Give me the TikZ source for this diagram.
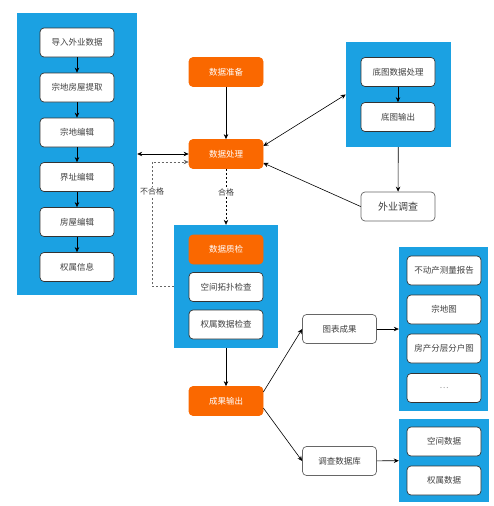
\documentclass[tikz,border=0pt]{standalone}
\usepackage{fontspec}
\setmainfont{Noto Sans CJK SC}
\usetikzlibrary{arrows.meta,calc}
\definecolor{panelblue}{HTML}{1BA1E2}
\definecolor{taskorange}{HTML}{FA6800}

\begin{document}
\begin{tikzpicture}[x=1pt, y=-1pt,
    box/.style={draw=black!80, fill=white, rounded corners=4pt, line width=0.7pt,
        minimum width=74pt, minimum height=29pt, inner sep=0pt,
        font=\fontsize{8.5}{10}\selectfont, text=black!75},
    hot/.style={box, draw=taskorange, fill=taskorange, text=white},
    panel/.style={fill=panelblue, inner sep=0pt},
    link/.style={-{Stealth[length=5pt,width=4.5pt]}, line width=0.6pt},
    twoway/.style={{Stealth[length=5pt,width=4.5pt]}-{Stealth[length=5pt,width=4.5pt]}, line width=0.6pt},
    tag/.style={fill=white, inner sep=1pt, font=\fontsize{8}{9}\selectfont, text=black!75}]

    \useasboundingbox (0,0) rectangle (494,506);

    % left column
    \node[panel, minimum width=120pt, minimum height=282pt] (leftpanel) at (77,154) {};
    \node[box] (import) at (77,42.5) {导入外业数据};
    \node[box] (extract) at (77,87.5) {宗地房屋提取};
    \node[box] (parcel) at (77,132.5) {宗地编辑};
    \node[box] (boundary) at (77,177) {界址编辑};
    \node[box] (house) at (77,222) {房屋编辑};
    \node[box] (owner) at (77,267) {权属信息};
    \draw[link] (import) -- (extract);
    \draw[link] (extract) -- (parcel);
    \draw[link] (parcel) -- (boundary);
    \draw[link] (boundary) -- (house);
    \draw[link] (house) -- (owner);

    % middle column
    \node[hot] (prep) at (226,72) {数据准备};
    \node[hot] (proc) at (226,154) {数据处理};

    \node[panel, minimum width=104pt, minimum height=123pt] (qcpanel) at (226,286.5) {};
    \node[hot] (qc) at (226,249.5) {数据质检};
    \node[box] (topo) at (226,287) {空间拓扑检查};
    \node[box] (rights) at (226,324.5) {权属数据检查};

    \node[hot] (result) at (226,401) {成果输出};

    \draw[link] (prep) -- (proc);
    \draw[twoway] (leftpanel) -- (proc);
    \draw[link, dashed, dash pattern=on 2pt off 2pt] (proc) -- node[tag, pos=0.42] (pass) {合格} (qcpanel);
    \coordinate (back) at (152,162);
    \draw[link, draw=black!60, dash pattern=on 2pt off 2pt] (qcpanel.west) -| node[tag, pos=0.88] (fail) {不合格} (back) -- (proc.west |- back);
    \draw[link] (qcpanel) -- (result);

    % base map
    \node[panel, minimum width=105pt, minimum height=105pt] (mappanel) at (398.5,94.5) {};
    \node[box] (mapproc) at (398,72) {底图数据处理};
    \node[box] (mapout) at (398,117) {底图输出};
    \node[box, draw=black!60, font=\fontsize{10}{12}\selectfont] (survey) at (398,206.5) {外业调查};
    \draw[link] (mapproc) -- (mapout);
    \draw[link] (mappanel) -- (survey);
    \draw[twoway] ($(proc.east)+(0,-8)$) -- (mappanel.west);
    \draw[link] (survey.west) -- ($(proc.east)+(0,9)$);

    % outputs
    \node[box, draw=black!60] (charts) at (339.5,329) {图表成果};
    \node[box, draw=black!60] (db) at (339.5,461) {调查数据库};
    \draw[link] ($(result.east)+(0,-9)$) -- (charts.west);
    \draw[link] ($(result.east)+(0,7)$) -- (db.west);

    \node[panel, minimum width=89pt, minimum height=164pt] (chartpanel) at (443.5,329) {};
    \node[box] (report) at (444,270.5) {不动产测量报告};
    \node[box] (parcelmap) at (444,309.5) {宗地图};
    \node[box] (floormap) at (444,348.5) {房产分层分户图};
    \node[box, text=black!40] (more) at (444,388) {…};

    \node[panel, minimum width=90pt, minimum height=83pt] (dbpanel) at (444,460.5) {};
    \node[box] (spatial) at (444,441.5) {空间数据};
    \node[box] (rightsdata) at (444,480.5) {权属数据};

    \draw[link] (charts) -- (chartpanel);
    \draw[link] (db) -- (dbpanel);
\end{tikzpicture}
\end{document}
